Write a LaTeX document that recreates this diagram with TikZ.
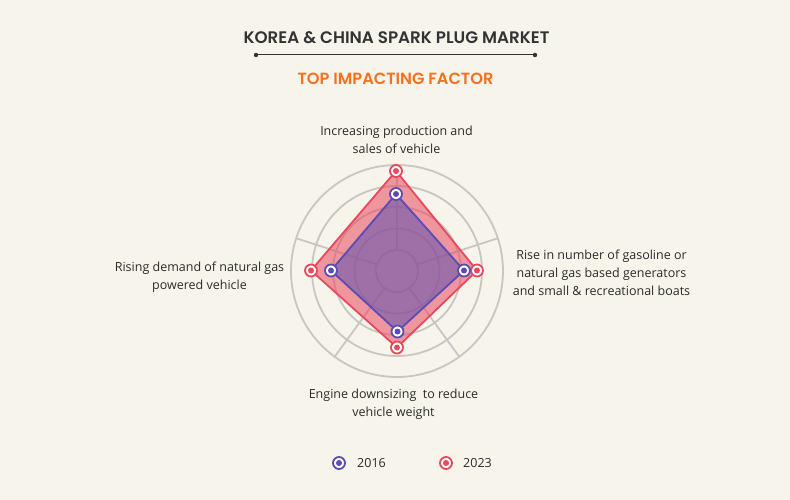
\documentclass[tikz,border=0pt]{standalone}
\usepackage{fontspec}
\setmainfont{Open Sans}
\newfontfamily\titlefont{Poppins SemiBold}
\usetikzlibrary{calc}
\definecolor{bg}{HTML}{F7F4EC}
\definecolor{gridc}{HTML}{C8C6C1}
\definecolor{redc}{HTML}{E9475D}
\definecolor{bluec}{HTML}{5A4BB5}
\definecolor{purplefill}{HTML}{6A58AF}
\definecolor{orangec}{HTML}{F7701E}
\definecolor{darkc}{HTML}{333333}
\definecolor{textc}{HTML}{2B2B2B}
\tikzset{
  gridline/.style={draw=gridc, line width=1.8pt},
  lbl/.style={align=center, font=\fontsize{12.5}{18}\selectfont, text=textc, inner sep=0pt},
  mk/.style={circle, fill=white, draw=#1, line width=1.8pt, minimum size=12pt, inner sep=0pt,
    path picture={\fill[#1] (path picture bounding box.center) circle (3pt);}},
}
\begin{document}
\begin{tikzpicture}[x=1pt,y=-1pt]
\fill[bg] (0,0) rectangle (790,500);
\useasboundingbox (0,0) rectangle (790,500);
% title
\node[font=\titlefont\fontsize{16.7}{18}\selectfont, text=darkc, inner sep=0pt] (title) at (396.5,38) {KOREA \& CHINA SPARK PLUG MARKET};
\coordinate (la) at (256,55);
\coordinate (lb) at (535,55);
\draw[darkc, line width=1pt] (la) -- (lb);
\fill[darkc] (la) circle (2.2pt) (lb) circle (2.2pt);
\node[font=\titlefont\fontsize{16.2}{18}\selectfont, text=orangec, inner sep=0pt] (sub) at (395.5,79) {TOP IMPACTING FACTOR};
% radar grid
\coordinate (c) at (397,271);
\foreach \r in {21,42.5,64,85,106} \draw[gridline] (c) circle (\r pt);
\foreach \a in {90,18,-54,-126,162}
  \draw[gridline] ($(c)+(\a:21pt)$) -- ($(c)+(\a:106pt)$);
% 2023 polygon
\coordinate (rt) at (396,171);
\coordinate (rr) at (477,270.5);
\coordinate (rb) at (397,347.5);
\coordinate (rl) at (311,270.5);
\filldraw[fill=redc, fill opacity=0.55, draw=redc, line width=1.8pt, line join=round] (rt) -- (rr) -- (rb) -- (rl) -- cycle;
% 2016 polygon
\coordinate (bt) at (396,194);
\coordinate (br) at (464,270.5);
\coordinate (bb) at (397.5,331.5);
\coordinate (bl) at (331,270.5);
\filldraw[fill=purplefill, fill opacity=0.6, draw=bluec, line width=1.8pt, line join=round] (bt) -- (br) -- (bb) -- (bl) -- cycle;
% markers
\foreach \p in {rt,rr,rb,rl} \node[mk=redc] at (\p) {};
\foreach \p in {bt,br,bb,bl} \node[mk=bluec] at (\p) {};
% labels
\node[lbl] (ltop) at (396.5,140) {Increasing production and\\sales of vehicle};
\node[lbl] (lright) at (601.5,272.5) {Rise in number of gasoline or\\natural gas based generators\\and small \& recreational boats};
\node[lbl] (lleft) at (199.5,277) {Rising demand of natural gas\\powered vehicle};
\node[lbl] (lbottom) at (393.5,404.5) {Engine downsizing\ \ to reduce\\vehicle weight};
% legend
\node[mk=bluec] (m16) at (339,463) {};
\node[lbl, anchor=west] (t16) at (357,463.5) {2016};
\node[mk=redc] (m23) at (446,463) {};
\node[lbl, anchor=west] (t23) at (463,463.5) {2023};
\end{tikzpicture}
\end{document}
